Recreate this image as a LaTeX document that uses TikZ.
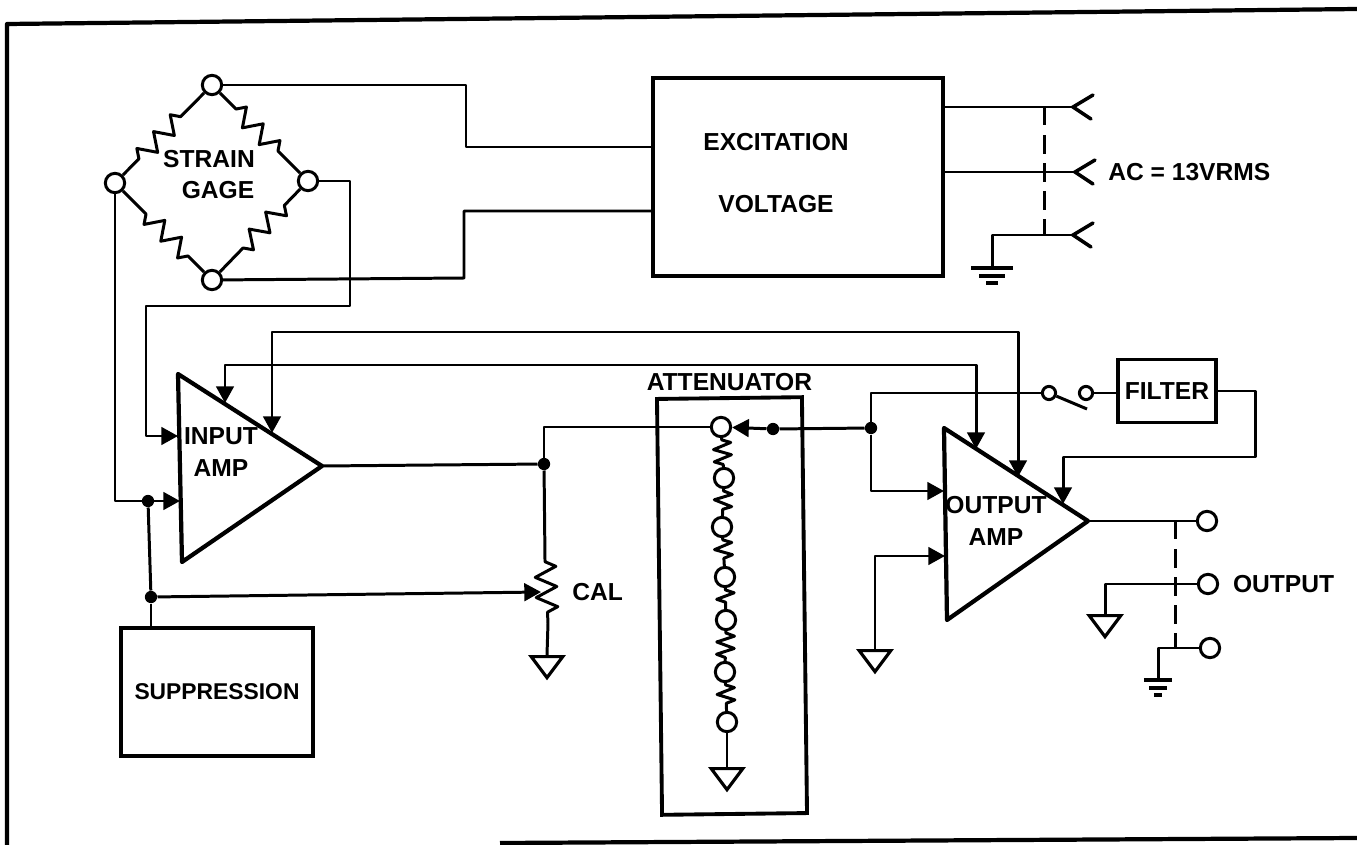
\documentclass[tikz,border=0pt]{standalone}
\usepackage{fontspec}
\setmainfont{Liberation Sans}
\usetikzlibrary{arrows.meta, positioning, calc, shapes.geometric, decorations.pathmorphing}
\tikzset{
    wire/.style={line width=1.7pt, line join=round, >={Triangle[length=9.5pt,width=10pt]}},
    heavy/.style={line width=2.4pt, line join=round},
    box/.style={rectangle, draw, line width=2.2pt, inner sep=0pt, font=\bfseries\fontsize{14}{17}\selectfont},
    txt/.style={inner sep=0pt, align=center, font=\bfseries\fontsize{14}{18}\selectfont},
    term/.style={circle, draw, fill=white, line width=1.7pt, inner sep=0pt, minimum size=11pt},
    termsmall/.style={term, minimum size=7.5pt},
    dot/.style={circle, fill=black, inner sep=0pt, minimum size=7pt},
    gnd/.style={isosceles triangle, isosceles triangle stretches, shape border rotate=-90, anchor=lower side, draw, line width=1.8pt, inner sep=0pt, minimum width=18pt, minimum height=12pt},
    armzig/.style={wire, decorate, decoration={zigzag, amplitude=5pt, segment length=13.5pt, pre length=13pt, post length=13pt}},
    calzig/.style={wire, decorate, decoration={zigzag, amplitude=6pt, segment length=11.5pt, pre length=1pt, post length=1pt}},
    attzig/.style={wire, decorate, decoration={zigzag, amplitude=5pt, segment length=7pt, pre length=1pt, post length=1pt}},
    gang/.style={wire, dash pattern=on 10.5pt off 5.5pt},
    fork/.pic={\draw[line width=2pt, line cap=round] (20,-12) -- (0,0) -- (18,12);},
    earth/.pic={
        \draw[line width=2pt] (-21,0) -- (21,0);
        \draw[line width=2pt] (-13,8) -- (13,8);
        \draw[line width=2pt] (-6,15) -- (6,15);
    }
}

\begin{document}
\begin{tikzpicture}[x=0.02cm, y=-0.02cm]
    \useasboundingbox (0,0) rectangle (1357,845);

    % Outer frame
    \coordinate (frTL) at (7,24);
    \coordinate (frTR) at (1357,9);
    \coordinate (frBL) at (7,845);
    \coordinate (frBM) at (500,843);
    \coordinate (frBR) at (1357,838);
    \draw [heavy] (frBL) -- (frTL) -- (frTR);
    \draw [heavy] (frBM) -- (frBR);

    % Strain gage bridge
    \node (sgTop) [term] at (212,85) {};
    \node (sgLeft) [term] at (115,183) {};
    \node (sgRight) [term] at (308,181) {};
    \node (sgBot) [term] at (212,280) {};
    \draw [armzig] (sgTop) -- (sgRight);
    \draw [armzig] (sgRight) -- (sgBot);
    \draw [armzig] (sgBot) -- (sgLeft);
    \draw [armzig] (sgLeft) -- (sgTop);
    \node (sgText) [txt] at (209,159) {STRAIN};
    \node (sgText2) [txt] at (218,190) {GAGE};

    % Excitation voltage
    \node (exBox) [box, minimum width=5.8cm, minimum height=3.96cm] at (798,177) {};
    \node (exText) [txt] at (776,142) {EXCITATION};
    \node (voltText) [txt, below=0.87cm of exText] {VOLTAGE};
    \coordinate (exIn1) at (653,147);
    \coordinate (exIn2) at (653,211);
    \coordinate (tA) at (466,85);
    \coordinate (tB) at (464,278);
    \draw [wire] (sgTop) -- (tA) |- (exIn1);
    \draw [wire] (sgBot) -- (tB) |- (exIn2);

    % Line input
    \coordinate (forkT) at (1073,107);
    \coordinate (forkM) at (1075,172);
    \coordinate (forkB) at (1073,235);
    \coordinate (dashT) at (1044,107);
    \coordinate (dashB) at (1044,235);
    \coordinate (earthE) at (992,268);
    \draw [wire] (forkT -| exBox.east) -- (forkT);
    \draw [wire] (forkM -| exBox.east) -- (forkM);
    \draw [wire] (earthE) |- (forkB);
    \draw [gang] (dashT) -- (dashB);
    \pic at (forkT) {fork};
    \pic at (forkM) {fork};
    \pic at (forkB) {fork};
    \pic at (earthE) {earth};
    \node (acText) [txt, right=0.66cm of forkM] {AC = 13VRMS};

    % Input amp
    \coordinate (inTL) at (178,374);
    \coordinate (inBL) at (182,562);
    \coordinate (inTip) at (322,466);
    \draw [heavy] (inTL) -- (inTip) -- (inBL) -- cycle;
    \node (inText) [txt] at (221,452) {INPUT\\AMP};
    \coordinate (inA) at (178,436);
    \coordinate (inB) at (180,501);
    \coordinate (inC) at (225,403);
    \coordinate (inD) at (272,433);
    \coordinate (tC) at (350,181);
    \coordinate (tD) at (146,306);
    \draw [wire, ->] (sgRight) -- (tC) |- (tD) |- (inA);
    \draw [wire, ->] (sgLeft) |- (inB);

    % Suppression
    \node (supBox) [box, font=\bfseries\fontsize{13}{16}\selectfont, minimum width=3.84cm, minimum height=2.56cm] at (217,692) {SUPPRESSION};
    \node (jnB) [dot] at (148,501) {};
    \node (jnS) [dot] at (151,597) {};
    \draw [wire] (jnB) -- (jnS);
    \draw [wire] (jnS) -- (jnS |- supBox.north);

    % Cal pot
    \node (jnO) [dot] at (544,464) {};
    \coordinate (calTop) at (545,560);
    \coordinate (calTap) at (541,592);
    \coordinate (calBot) at (548,623);
    \node (gndCal) [gnd] at (547,655) {};
    \draw [wire] (inTip) -- (jnO);
    \draw [wire] (jnO) -- (calTop);
    \draw [calzig] (calTop) -- (calBot);
    \draw [wire] (calBot) -- (gndCal.lower side);
    \draw [wire, ->] (jnS) -- (calTap);
    \node (calText) [txt, right=0.62cm of calTap] {CAL};

    % Attenuator
    \node (attBox) [box, rotate=0.7, minimum width=2.9cm, minimum height=8.32cm] at (732,606) {};
    \node (attText) [txt, above=0.1cm of attBox] {ATTENUATOR};
    \node (att0) [term] at (721,427) {};
    \node (att1) [term] at (724,478) {};
    \node (att2) [term] at (722,527) {};
    \node (att3) [term] at (725,577) {};
    \node (att4) [term] at (726,620) {};
    \node (att5) [term] at (725,672) {};
    \node (att6) [term] at (727,722) {};
    \draw [attzig] (att0) -- (att1);
    \draw [attzig] (att1) -- (att2);
    \draw [attzig] (att2) -- (att3);
    \draw [attzig] (att3) -- (att4);
    \draw [attzig] (att4) -- (att5);
    \draw [attzig] (att5) -- (att6);
    \node (gndAtt) [gnd] at (727,767) {};
    \draw [wire] (att6) -- (gndAtt.lower side);
    \node (jnW) [dot] at (773,429) {};
    \node (jnF) [dot] at (871,428) {};
    \draw [wire] (jnO) |- (att0);
    \draw [wire] (jnF) -- (jnW);
    \draw [wire, ->] (jnW) -- (att0);

    % Output amp
    \coordinate (outTL) at (944,428);
    \coordinate (outBL) at (947,620);
    \coordinate (outTip) at (1088,521);
    \draw [heavy] (outTL) -- (outTip) -- (outBL) -- cycle;
    \node (outText) [txt] at (996,521) {OUTPUT\\AMP};
    \coordinate (outA) at (944,491);
    \coordinate (outB) at (945,556);
    \coordinate (outC) at (1063,504);
    \coordinate (outD) at (1018,477);
    \coordinate (outE) at (976,449);
    \node (gndOutB) [gnd] at (875,649) {};
    \draw [wire, ->] (jnF) |- (outA);
    \draw [wire, ->] (gndOutB.lower side) |- (outB);

    % Feedback from output to input
    \coordinate (tH) at (1018,332);
    \coordinate (tI) at (976,365);
    \draw [wire, <->] (inD) |- (tH) -- (outD);
    \draw [wire, <->] (inC) |- (tI) -- (outE);

    % Filter and switch
    \node (filterBox) [box, minimum width=1.96cm, minimum height=1.26cm] at (1167,391) {FILTER};
    \node (swA) [termsmall] at (1049,393) {};
    \node (swB) [termsmall] at (1086,393) {};
    \coordinate (swEnd) at (1087,409);
    \coordinate (tG) at (1255,457);
    \draw [wire] (jnF) |- (swA);
    \draw [wire] (swA) -- (swEnd);
    \draw [wire] (swB) -- (swB -| filterBox.west);
    \draw [wire, ->] (filterBox.east) -| (tG) -| (outC);

    % Output terminals
    \node (oTop) [term] at (1207,521) {};
    \node (oMid) [term] at (1208,584) {};
    \node (oBot) [term] at (1210,648) {};
    \node (outLabel) [txt, right=0.27cm of oMid] {OUTPUT};
    \node (gndOutM) [gnd] at (1105,614) {};
    \coordinate (earthO) at (1158,680);
    \coordinate (dashOT) at (1175,521);
    \coordinate (dashOB) at (1175,648);
    \draw [wire] (outTip) -- (oTop);
    \draw [wire] (oMid) -| (gndOutM.lower side);
    \draw [wire] (oBot) -| (earthO);
    \draw [gang] (dashOT) -- (dashOB);
    \pic [xscale=0.67] at (earthO) {earth};
\end{tikzpicture}
\end{document}
